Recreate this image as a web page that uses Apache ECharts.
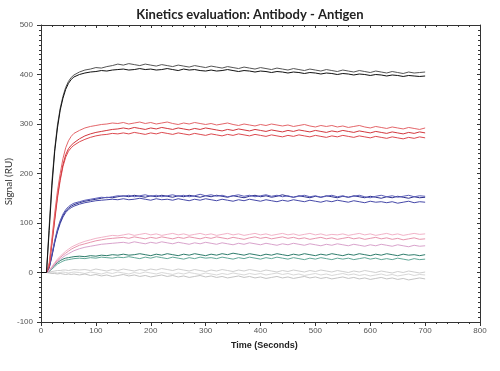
<!DOCTYPE html>
<html><head><meta charset="utf-8">
<script src="https://cdn.jsdelivr.net/npm/echarts@6/dist/echarts.min.js"></script>
<style>html,body{margin:0;padding:0;background:#fff}#c{width:500px;height:371px}</style>
</head><body><div id="c"></div>
<script>
const times = [0,10,15,20,25,30,35,40,45,50,55,60,
70,80,90,100,110,120,130,140,150,160,170,180,190,200,210,220,230,240,250,260,270,280,290,300,
310,320,330,340,350,360,370,380,390,400,410,420,430,440,450,460,470,480,490,500,510,520,530,540,
550,560,570,580,590,600,610,620,630,640,650,660,670,680,690,700];

const blackA = [0,0,95,185,250,298,332,356,374,386,394,399,
405,409,411,414,413,416,418,421,419,422,420,418,421,419,417,420,418,416,419,417,415,418,416,414,
417,415,413,416,414,412,415,413,411,414,412,410,413,411,409,412,410,408,411,409,407,410,408,406,
409,407,405,408,406,404,407,405,403,406,404,402,405,403,404,405];
const blackB = [0,0,85,175,245,292,328,352,370,382,390,395,
400,403,405,406,408,407,409,410,411,409,410,412,410,411,409,410,412,410,408,411,409,410,408,407,
409,407,408,410,408,406,408,407,405,407,406,404,406,405,403,405,404,402,404,403,401,403,402,400,
402,401,399,401,400,398,400,399,397,399,398,396,398,397,396,397];
const redA = [0,0,20,70,120,165,200,230,252,266,275,281,
287,292,295,297,299,300,302,301,303,300,302,304,301,303,300,302,304,301,299,302,300,303,301,299,
301,298,300,302,299,297,300,298,296,299,297,300,298,296,298,295,297,299,296,294,297,295,297,294,
296,293,295,297,294,292,295,293,291,294,292,290,293,291,289,292];
const redB = [0,0,15,62,110,155,190,218,238,250,257,262,
270,276,280,283,285,287,289,290,292,290,293,291,289,292,290,293,291,289,292,290,288,291,289,292,
290,288,286,289,287,290,288,286,289,287,285,288,286,284,287,285,288,286,284,287,285,283,286,284,
287,285,283,286,284,282,285,283,281,284,282,280,283,281,284,282];
const redC = [0,0,12,58,105,150,186,214,233,245,252,257,
264,269,273,276,278,279,281,280,282,280,283,281,279,282,280,283,281,279,282,280,278,281,279,277,
280,278,276,279,277,280,278,276,279,277,275,278,276,274,277,275,278,276,274,277,275,273,276,274,
277,275,273,276,274,272,275,273,271,274,272,270,273,271,274,272];
const blueA = [0,0,12,38,65,88,105,118,127,133,137,140,
143,146,148,150,152,151,153,155,154,156,153,155,157,154,156,153,155,157,154,156,153,155,158,155,
157,154,156,153,155,157,154,156,153,155,157,154,156,153,155,152,154,156,153,155,152,154,156,153,
155,152,154,156,153,151,154,156,153,155,152,154,156,153,155,154];
const blueB = [0,0,10,35,62,85,102,115,124,130,134,137,
141,144,146,148,150,152,151,153,155,153,156,154,152,155,153,156,154,152,155,153,156,154,152,155,
153,156,154,152,155,153,151,154,156,153,155,152,154,157,154,152,155,153,151,154,152,155,153,151,
154,152,155,153,151,154,152,150,153,151,154,152,150,153,151,152];
const blueC = [0,0,9,33,60,82,99,112,121,127,131,134,
138,141,143,145,146,147,148,147,149,147,148,150,148,146,149,147,148,146,149,147,145,148,146,149,
147,145,148,146,144,147,145,148,146,144,147,145,143,146,144,147,145,143,146,144,142,145,143,146,
144,142,145,143,141,144,142,143,141,143,140,142,144,141,143,142];
const pinkA = [0,0,4,12,20,27,33,38,43,47,51,54,
59,63,66,69,71,73,75,74,76,78,75,77,79,76,78,75,77,79,76,78,75,77,79,76,
78,75,77,79,76,78,75,77,79,76,78,75,77,79,76,78,75,77,79,76,78,75,77,76,
78,75,77,79,76,78,75,77,79,76,78,75,77,79,77,78];
const pinkB = [0,0,3,10,18,25,30,35,39,43,47,50,
55,58,61,64,66,68,69,70,71,69,72,70,68,71,69,72,70,68,71,69,72,70,68,71,
69,72,70,68,71,69,67,70,72,69,71,68,70,72,69,71,68,70,67,69,71,68,70,67,
69,71,68,70,67,69,71,68,70,67,69,66,68,70,67,68];
const pinkC = [0,0,3,9,16,22,27,31,35,38,41,44,
48,51,53,55,57,58,59,60,61,59,62,60,58,61,59,62,60,58,61,59,57,60,58,61,
59,57,60,58,56,59,57,60,58,56,59,57,55,58,56,59,57,55,58,56,54,57,55,58,
56,54,57,55,53,56,54,57,55,53,56,54,52,55,53,54];
const tealA = [0,0,3,9,15,20,24,27,29,30,31,32,
33,32,34,33,35,34,36,35,37,35,36,38,36,34,37,35,38,36,34,37,35,38,36,34,
37,35,38,36,39,37,35,38,36,34,37,35,38,36,34,37,35,38,36,34,37,35,38,36,
34,37,35,38,36,34,37,35,38,36,34,37,35,36,34,36];
const tealB = [0,0,2,7,12,17,20,23,25,26,27,28,
29,28,30,29,31,30,29,31,30,32,30,28,31,29,32,30,28,31,29,27,30,28,31,29,
30,28,31,29,27,30,28,31,29,27,30,28,31,29,27,30,28,26,29,27,30,28,26,29,
27,29,26,28,30,27,29,26,28,26,29,27,25,28,26,27];
const grayA = [0,0,1,2,3,4,4,5,5,4,5,6,
5,6,4,7,5,3,6,4,7,5,3,6,4,7,5,8,6,4,7,5,3,6,4,2,
5,3,6,4,2,5,3,6,4,2,5,3,1,4,2,5,3,1,4,2,5,3,1,4,
2,0,3,1,4,2,0,3,1,-1,2,0,3,1,-1,1];
const grayB = [0,0,0,-1,0,-1,0,1,0,-1,0,1,
0,-2,1,-1,-3,0,-2,1,-1,-3,0,-2,1,-1,-3,0,-2,-4,-1,-3,0,-2,-4,-1,
-3,-5,-2,-4,-1,-3,-5,-2,-4,-2,-5,-3,-1,-4,-2,-5,-3,-6,-4,-2,-5,-3,-6,-4,
-2,-5,-3,-6,-4,-7,-5,-3,-6,-4,-7,-5,-3,-6,-4,-5];
const grayC = [0,0,-1,-2,-2,-3,-2,-3,-4,-3,-4,-3,
-5,-3,-6,-4,-7,-5,-8,-6,-4,-7,-5,-8,-6,-9,-7,-5,-8,-6,-9,-7,-10,-8,-6,-9,
-7,-10,-8,-11,-9,-7,-10,-8,-11,-9,-12,-10,-8,-11,-9,-12,-10,-8,-11,-9,-12,-10,-13,-11,
-9,-12,-10,-13,-11,-14,-12,-10,-13,-11,-14,-12,-15,-13,-11,-13];

const xTicks = {min:0, max:800, interval:100};
const yTicks = {min:-100, max:500, interval:100};

const seriesDefs = [
  ['grayA', grayA, '#cfcfcf'], ['grayB', grayB, '#d8d8d8'], ['grayC', grayC, '#c4c4c4'],
  ['tealA', tealA, '#2f7d6c'], ['tealB', tealB, '#62a898'],
  ['pinkA', pinkA, '#f2b3c8'], ['pinkB', pinkB, '#e896ae'], ['pinkC', pinkC, '#d9a3cc'],
  ['blueC', blueC, '#4548a8'], ['blueB', blueB, '#2c2f8e'], ['blueA', blueA, '#5a5db8'],
  ['redC', redC, '#dd4a50'], ['redB', redB, '#d2383e'], ['redA', redA, '#e4666a'],
  ['blackA', blackA, '#555555'], ['blackB', blackB, '#111111']
];

const chart = echarts.init(document.getElementById('c'), null, {renderer:'canvas'});
const lbl = {fontSize:8, color:'#555', fontFamily:'Liberation Sans, Arial, sans-serif'};
const axLine = {show:true, onZero:false, lineStyle:{color:'#333', width:1}};
chart.setOption({
  animation:false,
  backgroundColor:'#fff',
  title:{text:'Kinetics evaluation: Antibody - Antigen', left:'center', top:3,
    textStyle:{fontSize:13, fontWeight:'bold', color:'#222', fontFamily:'Lato, sans-serif'}},
  grid:{left:41, right:20, top:25, bottom:49},
  xAxis:[
    {type:'value', min:xTicks.min, max:xTicks.max, interval:xTicks.interval, position:'bottom',
     axisLine:axLine, axisTick:{show:true, length:4, lineStyle:{color:'#333'}},
     minorTick:{show:true, splitNumber:5, length:2, lineStyle:{color:'#333'}},
     splitLine:{show:false}, axisLabel:Object.assign({margin:5}, lbl)},
    {type:'value', min:xTicks.min, max:xTicks.max, interval:xTicks.interval, position:'top',
     axisLine:axLine, axisTick:{show:true, length:3, inside:true, lineStyle:{color:'#333'}},
     minorTick:{show:true, splitNumber:5, length:2, lineStyle:{color:'#333'}},
     splitLine:{show:false}, axisLabel:{show:false}}
  ],
  yAxis:[
    {type:'value', min:yTicks.min, max:yTicks.max, interval:yTicks.interval, position:'left',
     axisLine:axLine, axisTick:{show:true, length:4, lineStyle:{color:'#333'}},
     minorTick:{show:true, splitNumber:10, length:2, lineStyle:{color:'#333'}},
     splitLine:{show:false}, axisLabel:Object.assign({margin:8}, lbl)},
    {type:'value', min:yTicks.min, max:yTicks.max, interval:yTicks.interval, position:'right',
     axisLine:axLine, axisTick:{show:true, length:3, inside:true, lineStyle:{color:'#333'}},
     minorTick:{show:true, splitNumber:10, length:2, lineStyle:{color:'#333'}},
     splitLine:{show:false}, axisLabel:{show:false}}
  ],
  graphic:[
    {type:'text', left:4, top:158, rotation:Math.PI/2, style:{text:'Signal (RU)', fontSize:10, fill:'#333', fontFamily:'Lato, sans-serif'}},
    {type:'text', left:231, top:341, style:{text:'Time (Seconds)', fontSize:9, fontWeight:'bold', fill:'#222', fontFamily:'Liberation Sans, Arial, sans-serif'}}
  ],
  series: seriesDefs.map(d => ({
    name:d[0], type:'line', showSymbol:false, symbol:'none', smooth:false,
    lineStyle:{width:1, color:d[2]}, itemStyle:{color:d[2]},
    data: times.map((t,i)=>[t, d[1][i]])
  }))
});
</script></body></html>
